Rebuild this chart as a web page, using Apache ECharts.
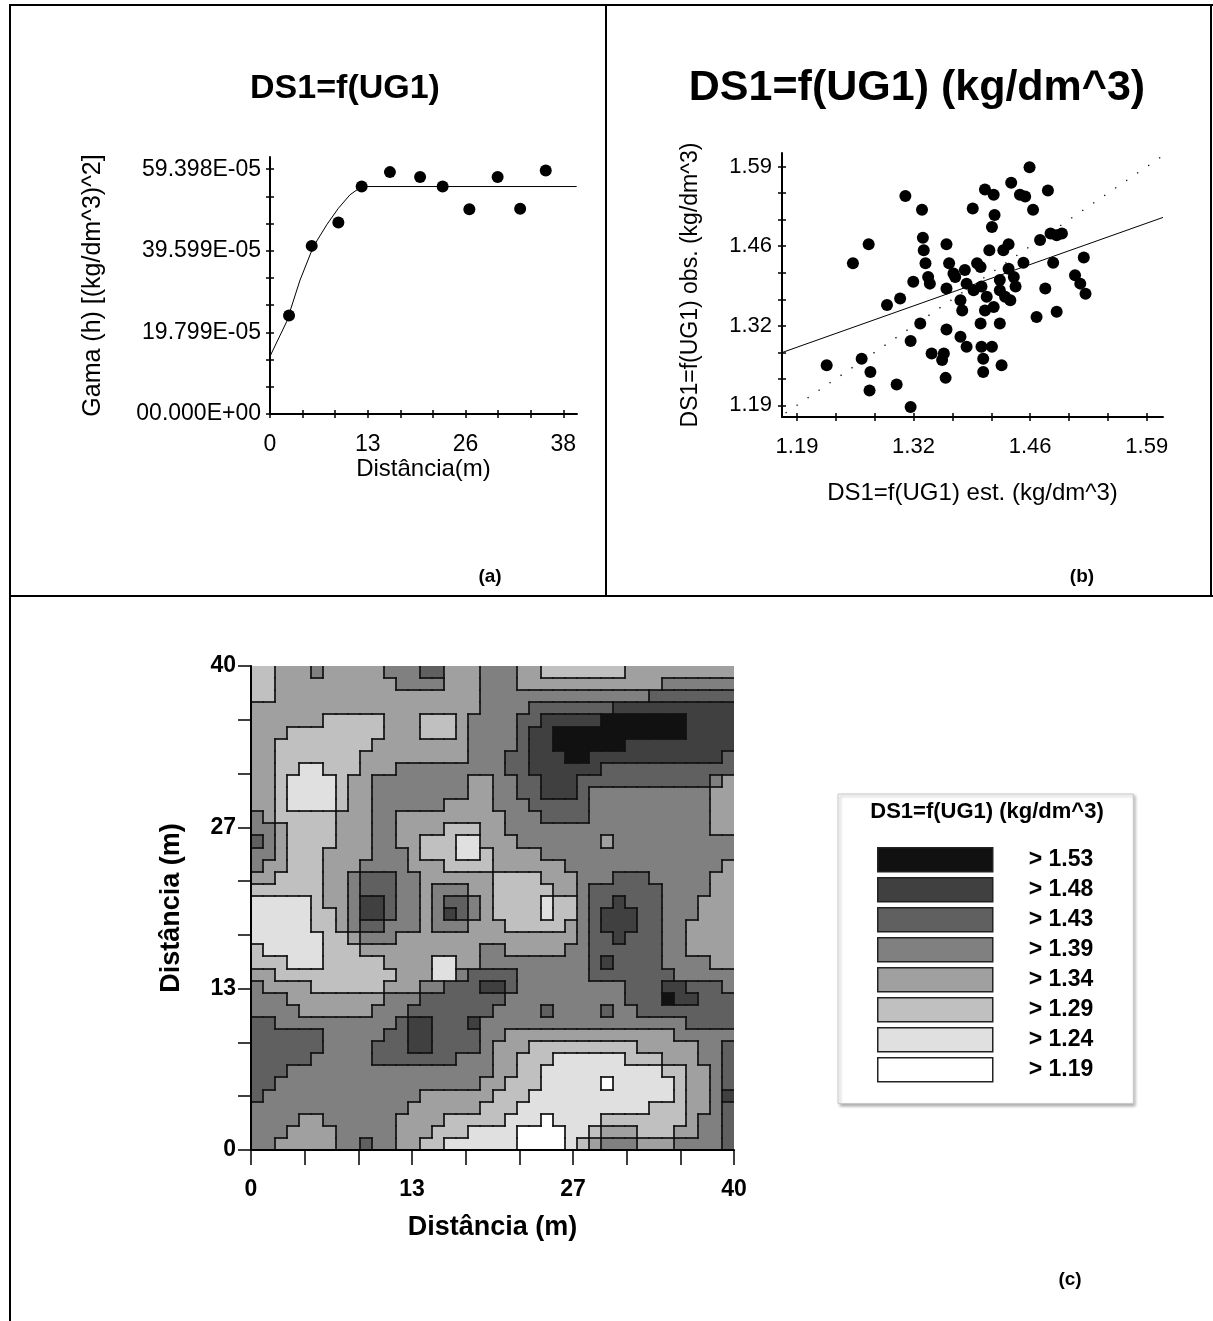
<!DOCTYPE html>
<html><head><meta charset="utf-8">
<script src="https://cdn.jsdelivr.net/npm/echarts@6/dist/echarts.min.js"></script>
<style>html,body{margin:0;padding:0;background:#fff}#c{width:1213px;height:1321px}</style>
</head><body><div id="c"></div>
<script>
// ---------- (a) variogram ----------
const lagDist   = [2.49, 5.46, 8.95, 12.0, 15.7, 19.65, 22.6, 26.1, 29.8, 32.75, 36.1];
const gammaE5   = [23.9, 40.8, 46.5, 55.2, 58.7, 57.5, 55.2, 49.7, 57.5, 49.8, 59.1];
const modelDist = [0, 2.18, 3.93, 5.67, 7.42, 8.94, 10.47, 12.0, 40.15];
const modelGam  = [14.0, 22.4, 32.5, 40.6, 45.9, 49.9, 53.2, 55.2, 55.2];
const aDistMajor = [0, 12.8, 25.6, 38.4];
const aDistLabels = ['0', '13', '26', '38'];
const aGamMajor = [0, 19.799, 39.599, 59.398];
const aGamLabels = ['00.000E+00', '19.799E-05', '39.599E-05', '59.398E-05'];

// ---------- (b) cross validation ----------
const estVals = [1.456,1.435,1.477,1.405,1.415,1.445,1.451,1.314,1.333,1.391,1.460,1.416,1.413,1.468,1.480,1.493,1.487,1.334,1.272,1.361,1.432,1.426,1.410,1.335,1.449,1.518,1.254,1.337,1.364,1.396,1.382,1.483,1.432,1.340,1.323,1.371,1.422,1.508,1.342,1.401,1.440,1.361,1.474,1.514,1.520,1.308,1.293,1.377,1.407,1.428,1.379,1.405,1.464,1.487,1.331,1.400,1.422,1.361,1.320,1.377,1.384,1.401,1.413,1.344,1.358,1.356,1.264,1.224,1.403,1.424,1.403,1.274,1.360,1.304,1.273,1.320,1.392,1.422,1.438,1.434,1.384,1.415,1.400,1.369];
const obsVals = [1.589,1.563,1.550,1.552,1.543,1.543,1.540,1.541,1.518,1.520,1.518,1.509,1.489,1.467,1.478,1.478,1.475,1.471,1.460,1.460,1.460,1.450,1.450,1.450,1.429,1.438,1.428,1.428,1.428,1.428,1.417,1.429,1.419,1.405,1.397,1.405,1.400,1.408,1.394,1.389,1.389,1.386,1.386,1.394,1.377,1.369,1.358,1.366,1.372,1.372,1.349,1.349,1.338,1.347,1.327,1.327,1.327,1.317,1.298,1.305,1.288,1.288,1.288,1.277,1.277,1.266,1.268,1.257,1.268,1.257,1.246,1.246,1.236,1.225,1.215,1.187,1.383,1.383,1.405,1.366,1.394,1.355,1.422,1.411];
const regLine = [[1.173, 1.2785], [1.6086, 1.505]];
const oneToOne = [[1.177, 1.177], [1.606, 1.606]];
const bMajor = [1.19, 1.3233, 1.4567, 1.59];
const bLabels = ['1.19', '1.32', '1.46', '1.59'];

// ---------- (c) kriged map (class index per 1 m cell, top row = 39-40 m) ----------
const classLabels = ['> 1.19', '> 1.24', '> 1.29', '> 1.34', '> 1.39', '> 1.43', '> 1.48', '> 1.53'];
const classColors = ['#ffffff', '#e0e0e0', '#c0c0c0', '#a0a0a0', '#808080', '#606060', '#404040', '#111111'];
const mapTicksMajor = [0, 40 / 3, 80 / 3, 40];
const mapTickLabels = ['0', '13', '27', '40'];
const mapRows = [
'22333433333 44455333444 3322222223 33333333',
'22333333333 34444333444 3333333333 33444444',
'22333333333 33333333444 4444444444 45555555',
'33333333333 33333333444 4555555566 66666666',
'33333322222 33322234444 5566666777 77776666',
'33322222222 33322234444 5667777777 77776666',
'33222222223 33333334444 5667777776 66666666',
'33222222233 33333334445 5666776666 66666665',
'33221122233 34444444445 5666666555 55555555',
'33211112334 44444443344 5566655555 55555543',
'33211112334 44444443344 5566654444 44444433',
'33211112334 44444333344 4555554444 44444433',
'43222223334 43333333334 4455554444 44444433',
'44322223334 43333222334 4444444444 44444433',
'54322223334 43322211333 4444444344 44444444',
'44322233334 44322211233 3344444444 44444444',
'43322233344 44333222233 3333444444 44444443',
'33222233455 54433333322 2233344455 54444433',
'22222233455 54434443322 2223345555 55444433',
'11111233466 54434554322 2212245565 55444333',
'11111223466 54434654322 2212245666 55444333',
'11111223455 44434443332 2222345666 55443333',
'11111122344 43333333333 3333345565 55443333',
'21111122233 33333333443 3333445555 55443333',
'22211122222 33331133444 4444445655 55444433',
'33222222222 23331145555 4444445555 55544444',
'43333222222 33344555665 4444444445 55665554',
'44433333333 44455555554 4444444445 55766555',
'44443333334 44555555544 4454444544 55555555',
'55444444444 45665556444 4444444444 44445555',
'55555544444 55665555443 3333333333 33344444',
'55555544445 55665555433 3222222222 33333445',
'55555444445 55555544433 2221111112 22333445',
'55544444444 44444444433 2211111111 11223345',
'55444444444 44444444332 2211111011 11123345',
'54444444444 44433333322 2111111111 11123346',
'44444444444 44333333222 1111111111 12223345',
'44443344444 43333222221 1101111222 22223445',
'44433334444 43332221111 0000112333 22233445',
'44333334454 43322111111 0000123444 33344445'
];

// ---------- helpers ----------
const FONT = '"Liberation Sans", Arial, Helvetica, sans-serif';
function subdivide(major, n) {
  const out = [];
  for (let i = 0; i < major.length - 1; i++)
    for (let k = 0; k < n; k++) out.push(major[i] + (major[i + 1] - major[i]) * k / n);
  out.push(major[major.length - 1]);
  return out;
}
function labelOf(majors, labels) {
  return function (v) {
    for (let i = 0; i < majors.length; i++) if (Math.abs(v - majors[i]) < 1e-6) return labels[i];
    return '';
  };
}
const grid = mapRows.map(s => s.replace(/ /g, '').split('').map(Number));

function cellRender(params, api) {
  const c = api.value(0), yb = api.value(1);
  const p0 = api.coord([c, yb + 1]);
  const p1 = api.coord([c + 1, yb]);
  const x = Math.round(p0[0]), y = Math.round(p0[1]);
  return { type: 'rect', shape: { x: x, y: y, width: Math.round(p1[0]) - x, height: Math.round(p1[1]) - y },
           style: { fill: api.visual('color') } };
}
function segRender(params, api) {
  const a = api.coord([api.value(0), api.value(1)]);
  const b = api.coord([api.value(2), api.value(3)]);
  return { type: 'line', shape: { x1: Math.round(a[0]), y1: Math.round(a[1]), x2: Math.round(b[0]), y2: Math.round(b[1]) },
           style: { stroke: '#111', lineWidth: 1.7, lineCap: 'square' } };
}

const cellSeries = [];
for (let k = 7; k >= 0; k--) {
  const data = [];
  grid.forEach((row, r) => row.forEach((v, c) => { if (v === k) data.push([c, 39 - r]); }));
  cellSeries.push({ type: 'custom', name: classLabels[k], xAxisIndex: 4, yAxisIndex: 4,
    itemStyle: { color: classColors[k] }, data: data, renderItem: cellRender, silent: true, clip: true, z: 2 });
}
const segs = [];
for (let r = 0; r < 40; r++) for (let c = 0; c < 40; c++) {
  const v = grid[r][c];
  if (c < 39 && grid[r][c + 1] !== v) segs.push([c + 1, 39 - r, c + 1, 40 - r]);
  if (r < 39 && grid[r + 1][c] !== v) segs.push([c, 39 - r, c + 1, 39 - r]);
}

const tickStyle = { lineStyle: { color: '#000', width: 1.5 } };
const lblA = { fontFamily: FONT, fontSize: 23, color: '#000' };
const lblB = { fontFamily: FONT, fontSize: 22, color: '#000' };
const lblC = { fontFamily: FONT, fontSize: 23, color: '#000', fontWeight: 'bold' };

const aX = subdivide(aDistMajor, 3), aY = subdivide(aGamMajor, 3), bT = subdivide(bMajor, 3), cT = subdivide(mapTicksMajor, 3);

const gA = { left: 270, top: 157, width: 307, height: 257 };
const gB = { left: 782, top: 153, width: 381, height: 264 };
const gC = { left: 251, top: 666, width: 483, height: 484 };
function g(o) { return Object.assign({ containLabel: false, outerBoundsMode: 'none', show: false }, o); }
function txt(x, y, s, font) {
  return { type: 'text', x: x, y: y, z: 100, style: { text: s, font: font, fill: '#000', align: 'center', verticalAlign: 'middle', textAlign: 'center', textVerticalAlign: 'middle' } };
}
function ln(x1, y1, x2, y2) { return { type: 'line', shape: { x1: x1, y1: y1, x2: x2, y2: y2 }, style: { stroke: '#000', lineWidth: 2 } }; }

const option = {
  animation: false,
  backgroundColor: '#fff',
  grid: [g(gA), g(gA), g(gB), g(gB), g(gC)],
  xAxis: [
    { gridIndex: 0, type: 'value', min: 0, max: 40.19, position: 'bottom',
      axisLine: { lineStyle: { color: '#000', width: 2 } },
      axisTick: Object.assign({ inside: false, length: 4, customValues: aX }, tickStyle),
      axisLabel: Object.assign({ customValues: aDistMajor, formatter: labelOf(aDistMajor, aDistLabels), margin: 19 }, lblA),
      splitLine: { show: false }, name: 'Distância(m)', nameLocation: 'middle', nameGap: 39,
      nameTextStyle: { fontFamily: FONT, fontSize: 24, color: '#000' } },
    { gridIndex: 1, type: 'value', min: 0, max: 40.19, position: 'bottom', axisLine: { show: false },
      axisTick: Object.assign({ inside: true, length: 4, customValues: aX }, tickStyle),
      axisLabel: { show: false }, splitLine: { show: false } },
    { gridIndex: 2, type: 'value', min: 1.1729, max: 1.6086, position: 'bottom',
      axisLine: { lineStyle: { color: '#000', width: 2 } },
      axisTick: Object.assign({ inside: false, length: 4, customValues: bT }, tickStyle),
      axisLabel: Object.assign({ customValues: bMajor, formatter: labelOf(bMajor, bLabels), margin: 19 }, lblB),
      splitLine: { show: false }, name: 'DS1=f(UG1) est. (kg/dm^3)', nameLocation: 'middle', nameGap: 64,
      nameTextStyle: { fontFamily: FONT, fontSize: 24, color: '#000' } },
    { gridIndex: 3, type: 'value', min: 1.1729, max: 1.6086, position: 'bottom', axisLine: { show: false },
      axisTick: Object.assign({ inside: true, length: 4, customValues: bT }, tickStyle),
      axisLabel: { show: false }, splitLine: { show: false } },
    { gridIndex: 4, type: 'value', min: 0, max: 40, position: 'bottom', z: 10,
      axisLine: { lineStyle: { color: '#000', width: 2 } },
      axisTick: Object.assign({ inside: false, length: 15, customValues: cT }, tickStyle),
      axisLabel: Object.assign({ customValues: mapTicksMajor, formatter: labelOf(mapTicksMajor, mapTickLabels), margin: 28 }, lblC),
      splitLine: { show: false }, name: 'Distância (m)', nameLocation: 'middle', nameGap: 64,
      nameTextStyle: { fontFamily: FONT, fontSize: 27, color: '#000', fontWeight: 'bold' } },
    { gridIndex: 4, type: 'value', min: 0, max: 40, position: 'top', z: 10,
      axisLine: { lineStyle: { color: '#000', width: 1 } }, axisTick: { show: false }, axisLabel: { show: false }, splitLine: { show: false } }
  ],
  yAxis: [
    { gridIndex: 0, type: 'value', min: 0, max: 62.37, position: 'left',
      axisLine: { show: true, lineStyle: { color: '#000', width: 2 } },
      axisTick: Object.assign({ show: true, inside: false, length: 4, customValues: aY }, tickStyle),
      axisLabel: Object.assign({ customValues: aGamMajor, formatter: labelOf(aGamMajor, aGamLabels), margin: 9 }, lblA),
      splitLine: { show: false }, name: 'Gama (h) [(kg/dm^3)^2]', nameLocation: 'middle', nameGap: 164,
      nameTextStyle: { fontFamily: FONT, fontSize: 25, color: '#000' } },
    { gridIndex: 1, type: 'value', min: 0, max: 62.37, position: 'left', axisLine: { show: false },
      axisTick: Object.assign({ show: true, inside: true, length: 4, customValues: aY }, tickStyle),
      axisLabel: { show: false }, splitLine: { show: false } },
    { gridIndex: 2, type: 'value', min: 1.1704, max: 1.613, position: 'left',
      axisLine: { show: true, lineStyle: { color: '#000', width: 2 } },
      axisTick: Object.assign({ show: true, inside: false, length: 4, customValues: bT }, tickStyle),
      axisLabel: Object.assign({ customValues: bMajor, formatter: labelOf(bMajor, bLabels), margin: 10 }, lblB),
      splitLine: { show: false }, name: 'DS1=f(UG1) obs. (kg/dm^3)', nameLocation: 'middle', nameGap: 80,
      nameTextStyle: { fontFamily: FONT, fontSize: 23, color: '#000' } },
    { gridIndex: 3, type: 'value', min: 1.1704, max: 1.613, position: 'left', axisLine: { show: false },
      axisTick: Object.assign({ show: true, inside: true, length: 4, customValues: bT }, tickStyle),
      axisLabel: { show: false }, splitLine: { show: false } },
    { gridIndex: 4, type: 'value', min: 0, max: 40, position: 'left', z: 10,
      axisLine: { show: true, lineStyle: { color: '#000', width: 2 } },
      axisTick: Object.assign({ show: true, inside: false, length: 13, customValues: cT }, tickStyle),
      axisLabel: Object.assign({ customValues: mapTicksMajor, formatter: labelOf(mapTicksMajor, mapTickLabels), margin: 15 }, lblC),
      splitLine: { show: false }, name: 'Distância (m)', nameLocation: 'middle', nameGap: 66,
      nameTextStyle: { fontFamily: FONT, fontSize: 27, color: '#000', fontWeight: 'bold' } },
    { gridIndex: 4, type: 'value', min: 0, max: 40, position: 'right', z: 10,
      axisLine: { show: true, lineStyle: { color: '#000', width: 1 } }, axisTick: { show: false }, axisLabel: { show: false }, splitLine: { show: false } }
  ],
  legend: {
    data: classLabels.slice().reverse(), orient: 'vertical', left: 838, top: 794,
    padding: [53, 40, 21, 39], itemWidth: 115, itemHeight: 24, itemGap: 4.5, icon: 'rect', selectedMode: false,
    itemStyle: { borderColor: '#222', borderWidth: 1.5 },
    textStyle: { fontFamily: FONT, fontSize: 23, lineHeight: 24, fontWeight: 'bold', color: '#000', padding: [0, 0, 0, 31] },
    backgroundColor: '#fff', borderColor: '#c8c8c8', borderWidth: 1,
    shadowColor: 'rgba(0,0,0,0.3)', shadowBlur: 3, shadowOffsetX: 2, shadowOffsetY: 2
  },
  graphic: [
    ln(10, 5, 1213, 5), ln(10, 4, 10, 1321), ln(606, 5, 606, 596), ln(10, 596, 1213, 596), ln(1211, 5, 1211, 596),
    txt(345, 89, 'DS1=f(UG1)', 'bold 34px ' + FONT),
    txt(917, 88, 'DS1=f(UG1) (kg/dm^3)', 'bold 43px ' + FONT),
    txt(490, 577, '(a)', 'bold 19px ' + FONT),
    txt(1082, 577, '(b)', 'bold 19px ' + FONT),
    txt(1070, 1280, '(c)', 'bold 19px ' + FONT),
    txt(987, 812, 'DS1=f(UG1) (kg/dm^3)', 'bold 22px ' + FONT)
  ],
  series: [
    { type: 'line', xAxisIndex: 0, yAxisIndex: 0, data: modelDist.map((d, i) => [d, modelGam[i]]), showSymbol: false,
      lineStyle: { color: '#000', width: 1 }, silent: true, z: 2 },
    { type: 'scatter', xAxisIndex: 0, yAxisIndex: 0, data: lagDist.map((d, i) => [d, gammaE5[i]]), symbolSize: 12,
      itemStyle: { color: '#000', opacity: 1 }, silent: true, z: 3 },
    { type: 'line', xAxisIndex: 2, yAxisIndex: 2, data: oneToOne, showSymbol: false,
      lineStyle: { color: '#000', width: 1.3, type: [1.3, 12] }, silent: true, z: 2 },
    { type: 'line', xAxisIndex: 2, yAxisIndex: 2, data: regLine, showSymbol: false,
      lineStyle: { color: '#000', width: 1 }, silent: true, z: 2 },
    { type: 'scatter', xAxisIndex: 2, yAxisIndex: 2, data: estVals.map((e, i) => [e, obsVals[i]]), symbolSize: 12,
      itemStyle: { color: '#000', opacity: 1 }, silent: true, z: 3 }
  ].concat(cellSeries).concat([
    { type: 'custom', name: 'contours', xAxisIndex: 4, yAxisIndex: 4, data: segs, encode: { x: [0, 2], y: [1, 3] },
      renderItem: segRender, silent: true, clip: true, z: 3 }
  ])
};
const chart = echarts.init(document.getElementById('c'), null, { renderer: 'canvas', width: 1213, height: 1321 });
chart.setOption(option);
</script>
</body></html>
